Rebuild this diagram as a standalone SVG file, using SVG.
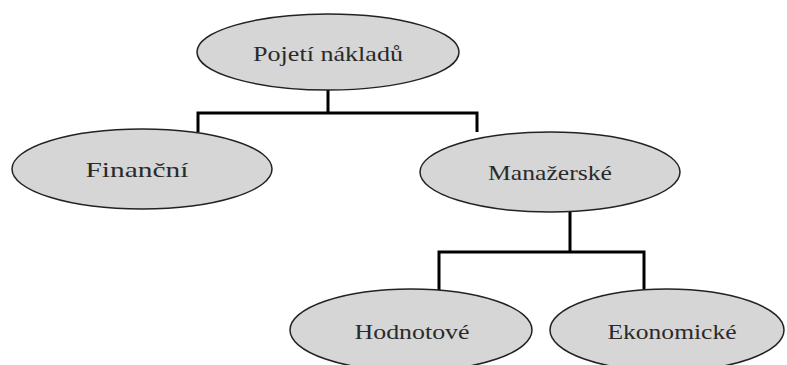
<svg xmlns="http://www.w3.org/2000/svg" width="787" height="365" viewBox="0 0 787 365">
<style>
.n ellipse{fill:#d6d6d6;stroke:#222;stroke-width:1.5}
.n text{font-family:"Liberation Serif","DejaVu Serif",serif;font-size:22px;fill:#2a2a2a;text-anchor:middle}
.c{fill:none;stroke:#000;stroke-width:3}
</style>
<rect width="787" height="365" fill="#fff"/>
<g id="connectors">
<path class="c" d="M328 90V113M198 132V113H477V132"/>
<path class="c" d="M570 212V252M439 292V252H644V292"/>
</g>
<g id="pojeti" class="n"><ellipse cx="328" cy="52" rx="131" ry="38"/><text x="328" y="61" textLength="150" lengthAdjust="spacingAndGlyphs">Pojetí nákladů</text></g>
<g id="financni" class="n"><ellipse cx="142" cy="169" rx="130" ry="40"/><text x="137" y="177" textLength="103" lengthAdjust="spacingAndGlyphs">Finanční</text></g>
<g id="manazerske" class="n"><ellipse cx="550" cy="172" rx="130" ry="40"/><text x="550" y="180" textLength="124" lengthAdjust="spacingAndGlyphs">Manažerské</text></g>
<g id="hodnotove" class="n"><ellipse cx="411" cy="330" rx="121" ry="41"/><text x="412" y="339" textLength="115" lengthAdjust="spacingAndGlyphs">Hodnotové</text></g>
<g id="ekonomicke" class="n"><ellipse cx="667" cy="330" rx="117" ry="41"/><text x="672" y="339" textLength="129" lengthAdjust="spacingAndGlyphs">Ekonomické</text></g>
</svg>
